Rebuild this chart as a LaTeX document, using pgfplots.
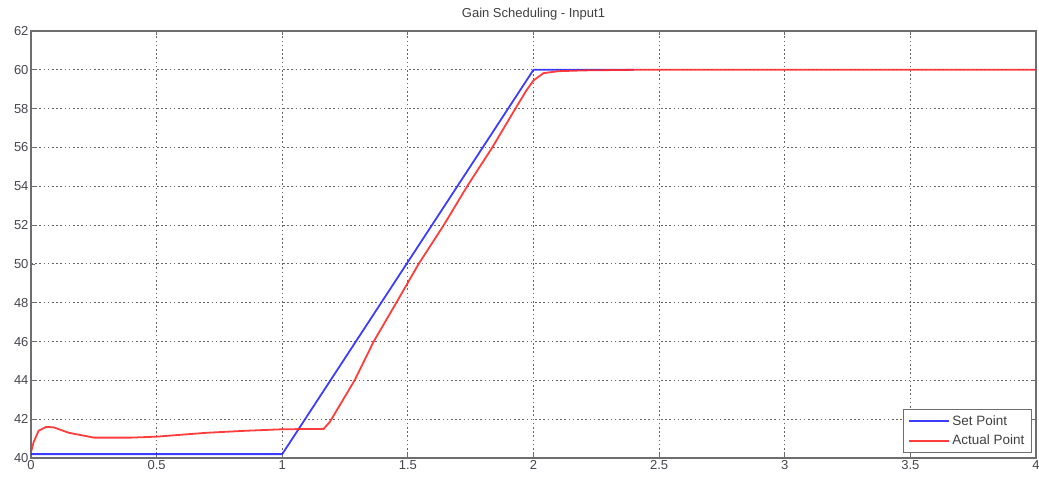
\documentclass[border=0pt]{standalone}
\usepackage{fontspec}
\setmainfont{Liberation Sans}
\usepackage{pgfplots}
\pgfplotsset{compat=1.18}
\definecolor{setblue}{RGB}{40,40,255}
\definecolor{actred}{RGB}{255,40,40}
\definecolor{framegray}{RGB}{110,110,110}
\definecolor{ticktext}{RGB}{70,70,80}
\begin{document}
\begin{tikzpicture}
\useasboundingbox (-31pt,-20pt) rectangle (1008pt,458pt);
\begin{axis}[
  at={(0pt,0pt)}, anchor=south west,
  scale only axis, width=1005pt, height=427pt,
  xmin=0, xmax=4, ymin=40, ymax=62,
  xtick={0,0.5,...,4}, ytick={40,42,...,62},
  grid=major,
  major grid style={black!60, dash pattern=on 1.6pt off 2.6pt, line width=0.9pt},
  axis line style={framegray, line width=1.1pt},
  tick style={framegray, line width=0.8pt},
  major tick length=4pt,
  tick align=inside,
  tick label style={font=\fontsize{13}{14}\selectfont, text=ticktext},
  /pgf/number format/assume math mode=true,
  xticklabel style={yshift=1pt},
  yticklabel style={xshift=1pt},
  title={Gain Scheduling - Input1},
  title style={font=\fontsize{13}{14}\selectfont, text=black!75, yshift=1pt},
  legend style={at={(rel axis cs:0.996,0.012)}, anchor=south east,
    draw=framegray, line width=1.1pt, font=\fontsize{13.5}{15}\selectfont,
    text=black!75, row sep=4pt, inner xsep=5pt, inner ysep=4pt, fill=white},
  legend cell align=left,
  legend image code/.code={\draw[#1, line width=2pt, opacity=0.9] (0pt,0pt) -- (40pt,0pt);},
]
\addplot[setblue, line width=1.8pt, opacity=0.9, line join=round] coordinates {
(0,40.2) (1,40.2) (2,60) (2.4,60)
};
\addlegendentry{Set Point}
\addplot[actred, line width=1.8pt, opacity=0.9, line join=round] coordinates {
(0,40.3) (0.01,40.8) (0.03,41.4) (0.06,41.6) (0.09,41.58) (0.15,41.3)
(0.25,41.05) (0.4,41.05) (0.5,41.1) (0.7,41.3) (0.85,41.4) (1.0,41.48)
(1.165,41.5) (1.19,41.87) (1.288,44) (1.364,46) (1.454,48) (1.543,50)
(1.643,52) (1.736,54) (1.836,56) (1.928,58) (1.97,58.9) (2.0,59.45)
(2.04,59.83) (2.1,59.93) (2.2,59.97) (2.4,60) (4,60)
};
\addlegendentry{Actual Point}
\end{axis}
\end{tikzpicture}
\end{document}
